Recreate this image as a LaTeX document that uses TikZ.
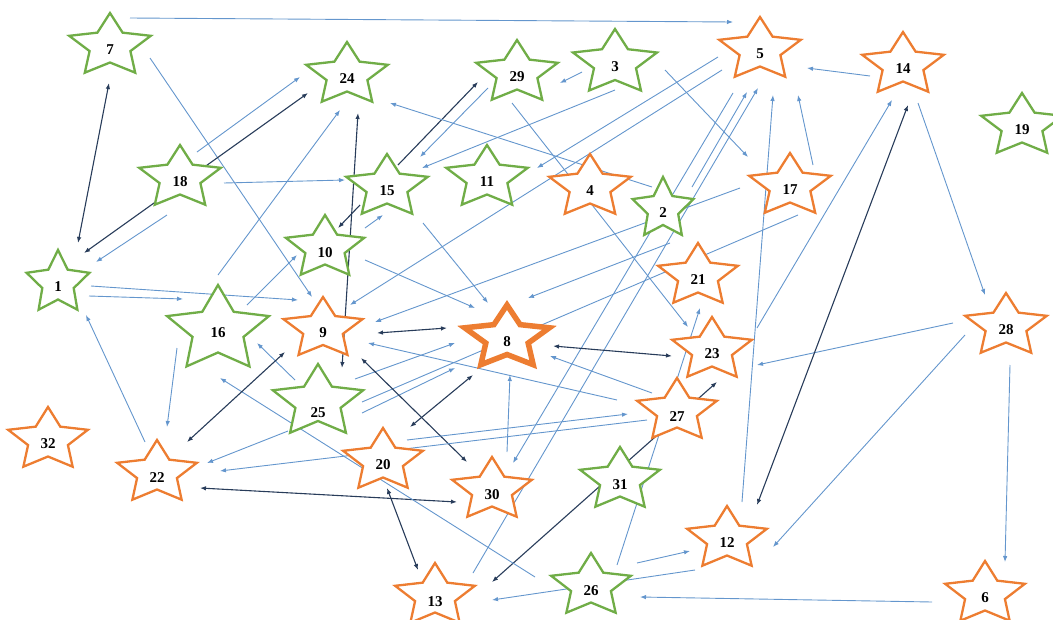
\documentclass[tikz,border=0pt]{standalone}
\usepackage{fontspec}
\setmainfont{Liberation Serif}
\usetikzlibrary{arrows.meta,calc}
\definecolor{lblue}{RGB}{100,150,205}
\definecolor{dblue}{RGB}{40,60,90}
\definecolor{sgreen}{RGB}{112,173,71}
\definecolor{sorange}{RGB}{237,125,49}
\tikzset{
  ltarr/.style={draw=lblue, line width=0.9pt, -{Latex[length=6pt,width=4.5pt]}},
  ltline/.style={draw=lblue, line width=0.9pt},
  dkarr/.style={draw=dblue, line width=1.1pt, -{Latex[length=6pt,width=4.5pt]}},
  dkboth/.style={draw=dblue, line width=1.1pt, {Latex[length=6pt,width=4.5pt]}-{Latex[length=6pt,width=4.5pt]}},
  gstar/.style={draw=sgreen, line width=2.3pt, fill=white},
  ostar/.style={draw=sorange, line width=2.3pt, fill=white},
  bigstar/.style={draw=sorange, line width=5.5pt, fill=white},
  lbl/.style={font=\fontsize{15}{15}\selectfont\bfseries, inner sep=0pt}
}
\newcommand{\E}[7]{\draw[#1] ($(#2)+(#3,#4)$) -- ($(#5)+(#6,#7)$);}
\newcommand{\Star}[6]{%
  \draw[#4, shift={(#1)}, xscale=#3]
   (-90:#2) -- (-54:0.5*#2) -- (-18:#2) -- (18:0.5*#2) -- (54:#2) -- (90:0.5*#2)
   -- (126:#2) -- (162:0.5*#2) -- (198:#2) -- (234:0.5*#2) -- cycle;
  \node[lbl] (#1t) at ($(#1)+(0,#6)$) {#5};
}
\begin{document}
\begin{tikzpicture}[x=1pt,y=-1pt]
\useasboundingbox (0,0) rectangle (1053,619);
% star centres
\coordinate (n7) at (110,46);
\coordinate (n24) at (347,75);
\coordinate (n29) at (517,73);
\coordinate (n3) at (615,63);
\coordinate (n5) at (760,50);
\coordinate (n14) at (903,65);
\coordinate (n19) at (1022,126);
\coordinate (n18) at (180,178);
\coordinate (n15) at (387,187);
\coordinate (n11) at (487,178);
\coordinate (n4) at (590,187);
\coordinate (n2) at (663,209);
\coordinate (n17) at (790,186);
\coordinate (n1) at (58,283);
\coordinate (n10) at (325,248);
\coordinate (n16) at (218,330);
\coordinate (n9) at (323,329);
\coordinate (n8) at (507,338);
\coordinate (n21) at (698,276);
\coordinate (n23) at (712,350);
\coordinate (n28) at (1006,326);
\coordinate (n25) at (318,402);
\coordinate (n27) at (677,411);
\coordinate (n32) at (48,440);
\coordinate (n22) at (157,473);
\coordinate (n20) at (383,461);
\coordinate (n30) at (492,490);
\coordinate (n31) at (620,480);
\coordinate (n12) at (727,539);
\coordinate (n26) at (591,586);
\coordinate (n13) at (435,596);
\coordinate (n6) at (985,594);
% connectors
\E{ltarr}{n7}{20}{-28}{n5}{-27}{-28}
\E{ltarr}{n7}{40}{12}{n9}{-11}{-32}
\E{dkboth}{n1}{20}{-40}{n7}{-1}{37}
\E{dkboth}{n1}{26}{-30}{n24}{-39}{18}
\E{ltarr}{n18}{17}{-26}{n24}{-47}{2}
\E{ltarr}{n18}{-13}{37}{n1}{38}{-21}
\E{ltarr}{n18}{44}{5}{n15}{-42}{-7}
\E{ltarr}{n16}{0}{-55}{n24}{-7}{35}
\E{dkboth}{n25}{24}{-34}{n24}{11}{38}
\E{ltarr}{n3}{-33}{9}{n29}{43}{10}
\E{dkarr}{n15}{11}{-22}{n29}{-39}{9}
\E{ltarr}{n29}{-29}{15}{n15}{33}{-30}
\E{ltarr}{n3}{0}{27}{n15}{35}{-19}
\E{ltarr}{n2}{-11}{-22}{n24}{43}{28}
\E{ltarr}{n5}{-42}{7}{n11}{50}{-10}
\E{ltarr}{n5}{-38}{20}{n9}{27}{-24}
\E{ltarr}{n29}{-5}{30}{n23}{-24}{-23}
\E{ltarr}{n3}{50}{7}{n17}{-42}{-29}
\E{ltarr}{n14}{-33}{11}{n5}{47}{18}
\E{ltarr}{n17}{23}{-21}{n5}{38}{45}
\E{ltarr}{n12}{15}{-37}{n5}{13}{45}
\E{ltarr}{n2}{29}{-22}{n5}{-13}{42}
\E{ltarr}{n13}{38}{-23}{n5}{-2}{38}
\E{ltarr}{n5}{-27}{43}{n30}{21}{-27}
\E{ltarr}{n10}{40}{12}{n8}{-32}{-30}
\E{ltarr}{n15}{36}{36}{n8}{-19}{-35}
\E{ltarr}{n17}{-50}{2}{n9}{52}{-7}
\E{ltarr}{n2}{7}{34}{n8}{21}{-40}
\E{ltline}{n17}{8}{29}{n25}{44}{0}
\E{dkboth}{n9}{54}{4}{n8}{-60}{-10}
\E{dkboth}{n8}{46}{8}{n23}{-40}{6}
\E{ltarr}{n27}{-25}{-18}{n8}{43}{18}
\E{ltarr}{n27}{-60}{-11}{n9}{45}{14}
\E{ltarr}{n25}{37}{-23}{n8}{-52}{5}
\E{ltarr}{n25}{44}{11}{n8}{-52}{30}
\E{dkboth}{n20}{27}{-34}{n8}{-34}{37}
\E{dkboth}{n9}{38}{29}{n30}{-25}{-28}
\E{ltarr}{n30}{15}{-38}{n8}{3}{37}
\E{ltarr}{n28}{-53}{-3}{n23}{45}{15}
\E{ltarr}{n28}{-41}{9}{n12}{46}{8}
\E{ltarr}{n14}{15}{38}{n28}{-21}{-31}
\E{ltarr}{n28}{4}{39}{n6}{20}{-32}
\E{ltarr}{n6}{-53}{8}{n26}{49}{11}
\E{dkboth}{n14}{5}{40}{n12}{30}{-34}
\E{ltarr}{n23}{45}{-22}{n14}{-11}{35}
\E{ltarr}{n26}{26}{-21}{n21}{2}{32}
\E{dkboth}{n13}{57}{-14}{n23}{5}{32}
\E{ltarr}{n27}{-30}{9}{n22}{63}{-2}
\E{ltarr}{n20}{24}{-21}{n27}{-49}{3}
\E{dkboth}{n22}{43}{15}{n30}{-35}{12}
\E{dkboth}{n20}{4}{27}{n13}{-17}{-26}
\E{ltarr}{n26}{-56}{-9}{n16}{2}{48}
\E{ltarr}{n25}{-23}{-22}{n16}{39}{13}
\E{ltarr}{n16}{29}{-25}{n10}{-28}{7}
\E{ltarr}{n10}{40}{-20}{n15}{-4}{28}
\E{dkarr}{n15}{-27}{18}{n10}{13}{-20}
\E{ltarr}{n1}{33}{3}{n9}{-25}{-29}
\E{ltarr}{n1}{31}{13}{n16}{-35}{-31}
\E{ltarr}{n22}{-12}{-31}{n1}{28}{32}
\E{ltarr}{n16}{-41}{18}{n22}{10}{-46}
\E{dkboth}{n9}{-38}{23}{n22}{30}{-31}
\E{ltarr}{n25}{-30}{29}{n22}{50}{-10}
\E{ltarr}{n26}{46}{-23}{n12}{-37}{12}
\E{ltarr}{n12}{-32}{31}{n13}{57}{4}
% stars
\Star{n7}{33}{1.3}{gstar}{7}{4}
\Star{n24}{33}{1.3}{gstar}{24}{4}
\Star{n29}{33}{1.3}{gstar}{29}{4}
\Star{n3}{34}{1.3}{gstar}{3}{4}
\Star{n5}{33}{1.3}{ostar}{5}{4}
\Star{n14}{33}{1.3}{ostar}{14}{4}
\Star{n19}{33}{1.3}{gstar}{19}{4}
\Star{n18}{33}{1.3}{gstar}{18}{4}
\Star{n15}{33}{1.3}{gstar}{15}{4}
\Star{n11}{33}{1.3}{gstar}{11}{4}
\Star{n4}{33}{1.3}{ostar}{4}{4}
\Star{n2}{32}{1.0}{gstar}{2}{4}
\Star{n17}{33}{1.3}{ostar}{17}{4}
\Star{n1}{33}{1.0}{gstar}{1}{4}
\Star{n10}{33}{1.25}{gstar}{10}{5}
\Star{n16}{45}{1.19}{gstar}{16}{3}
\Star{n9}{32}{1.3}{ostar}{9}{4}
\Star{n8}{33}{1.35}{bigstar}{8}{4}
\Star{n21}{33}{1.27}{ostar}{21}{4}
\Star{n23}{33}{1.27}{ostar}{23}{4}
\Star{n28}{33}{1.3}{ostar}{28}{4}
\Star{n25}{38}{1.25}{gstar}{25}{11}
\Star{n27}{33}{1.27}{ostar}{27}{6}
\Star{n32}{33}{1.27}{ostar}{32}{4}
\Star{n22}{33}{1.27}{ostar}{22}{5}
\Star{n20}{33}{1.27}{ostar}{20}{4}
\Star{n30}{33}{1.27}{ostar}{30}{5}
\Star{n31}{33}{1.27}{gstar}{31}{5}
\Star{n12}{33}{1.27}{ostar}{12}{4}
\Star{n26}{33}{1.27}{gstar}{26}{5}
\Star{n13}{33}{1.27}{ostar}{13}{6}
\Star{n6}{33}{1.27}{ostar}{6}{4}
\end{tikzpicture}
\end{document}
